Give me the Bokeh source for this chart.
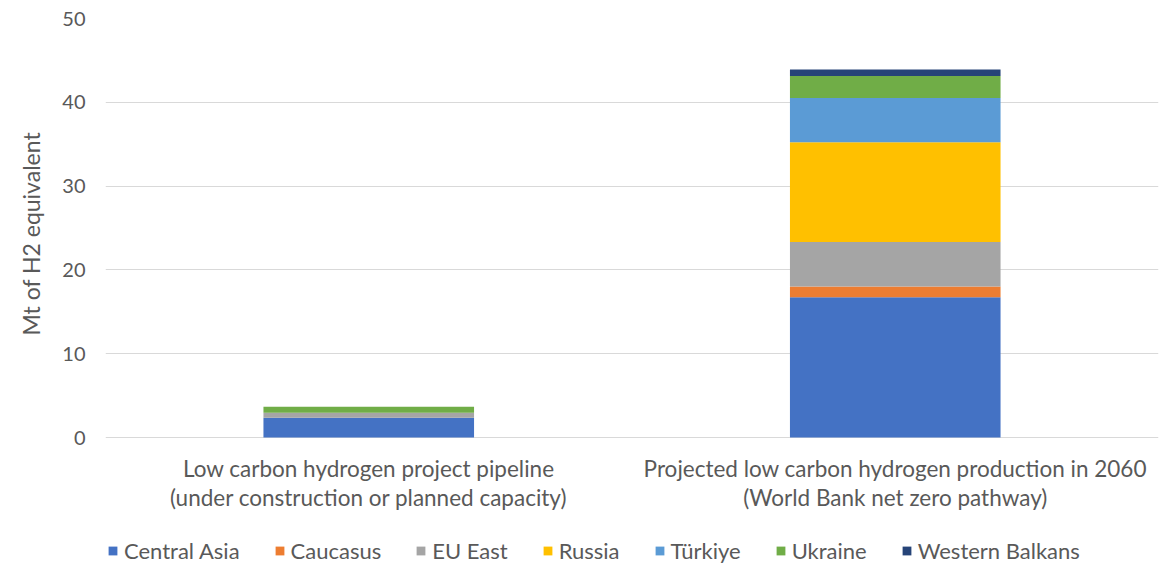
from bokeh.plotting import figure
from bokeh.models import ColumnDataSource, FactorRange, Legend, LegendItem, Range1d, FixedTicker, Title
from bokeh.core.properties import value
from bokeh.embed import file_html
from bokeh.resources import INLINE

categories = [
    "Low carbon hydrogen project pipeline\n(under construction or planned capacity)",
    "Projected low carbon hydrogen production in 2060\n(World Bank net zero pathway)",
]
series = ["Central Asia", "Caucasus", "EU East", "Russia", "Türkiye", "Ukraine", "Western Balkans"]
central_asia = [2.35, 16.74]
caucasus = [0.0, 1.28]
eu_east = [0.6, 5.3]
russia = [0.0, 11.9]
turkiye = [0.0, 5.3]
ukraine = [0.72, 2.63]
western_balkans = [0.0, 0.76]
y_ticks = [0, 10, 20, 30, 40, 50]
y_label = "Mt of H2 equivalent"
colors = ["#4472C4", "#ED7D31", "#A5A5A5", "#FFC000", "#5B9BD5", "#70AD47", "#264478"]

keys = ["s%d" % i for i in range(len(series))]
data = {"cat": categories}
for k, v in zip(keys, [central_asia, caucasus, eu_east, russia, turkiye, ukraine, western_balkans]):
    data[k] = v
data["line1"] = [c.split("\n")[0] for c in categories]
data["line2"] = [c.split("\n")[1] for c in categories]
data["base"] = [0, 0]
source = ColumnDataSource(data)

FONT = "Lato"
TXT = "#595959"

FRAME_H = 547
DATA_H = 419
y_top = 50
y_bottom = y_top - FRAME_H * y_top / DATA_H

p = figure(x_range=FactorRange(factors=categories, range_padding=0),
           y_range=Range1d(y_bottom, y_top),
           frame_width=1053, frame_height=FRAME_H, output_backend="svg", toolbar_location=None,
           min_border_left=105, min_border_right=1, min_border_top=18, min_border_bottom=0)

renderers = p.vbar_stack(keys, x="cat", width=0.4, source=source, color=colors, line_color=None)

p.text(x="cat", y="base", text="line1", source=source, y_offset=31,
       text_align="center", text_baseline="middle", text_color=TXT,
       text_font=value(FONT), text_font_size="22.5px")
p.text(x="cat", y="base", text="line2", source=source, y_offset=60,
       text_align="center", text_baseline="middle", text_color=TXT,
       text_font=value(FONT), text_font_size="22.5px")

p.outline_line_color = None
p.xgrid.grid_line_color = None
p.ygrid.grid_line_color = "#D9D9D9"
p.ygrid.grid_line_width = 1
p.xaxis.visible = False

p.yaxis.ticker = FixedTicker(ticks=y_ticks)
p.yaxis.axis_line_color = None
p.yaxis.major_tick_line_color = None
p.yaxis.minor_tick_line_color = None
p.yaxis.major_tick_out = 0
p.yaxis.minor_tick_out = 0
p.yaxis.major_label_text_font = FONT
p.yaxis.major_label_text_font_size = "20px"
p.yaxis.major_label_text_color = TXT
p.yaxis.major_label_standoff = 20

ytitle = Title(text=y_label, align="left", offset=230, vertical_align="top", standoff=26,
               text_font=FONT, text_font_size="23px", text_font_style="normal",
               text_color=TXT)
p.add_layout(ytitle, "left")

items = [LegendItem(label=name, renderers=[r]) for name, r in zip(series, renderers)]
legend = Legend(items=items, orientation="horizontal", location=(2, 1))
legend.label_text_font = FONT
legend.label_text_font_size = "22px"
legend.label_text_color = TXT
legend.glyph_width = 11
legend.glyph_height = 11
legend.spacing = 34
legend.label_standoff = 6
legend.border_line_color = None
legend.background_fill_alpha = 0
legend.margin = 0
legend.padding = 0
p.add_layout(legend, "center")

open("out.html", "w").write(file_html(p, INLINE))
